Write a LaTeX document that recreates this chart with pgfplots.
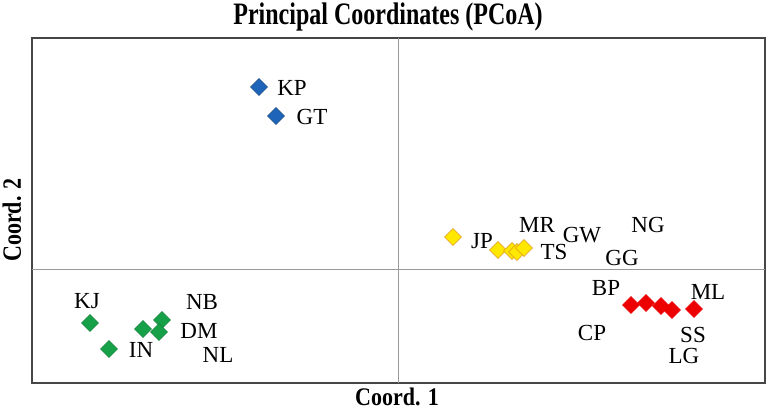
\documentclass[border=0pt]{standalone}
\usepackage{pgfplots}
\pgfplotsset{compat=1.18}
\usepackage{fontspec}
\setmainfont{Liberation Serif}
\definecolor{cblue}{RGB}{30,100,185}
\definecolor{cyellow}{RGB}{255,232,0}
\definecolor{cyelloweb}{RGB}{225,150,30}
\definecolor{cred}{RGB}{236,0,0}
\definecolor{cgreen}{RGB}{22,160,72}
\definecolor{boxc}{RGB}{70,70,70}
\begin{document}
\begin{tikzpicture}[x=1pt,y=1pt]
\useasboundingbox (0,0) rectangle (768,413);
\begin{axis}[
  at={(32pt,30pt)}, anchor=south west,
  scale only axis, width=733pt, height=345pt,
  xmin=-366, xmax=367, ymin=-114, ymax=231,
  axis line style={draw=boxc, line width=1.3pt},
  xtick=\empty, ytick=\empty,
  clip=false,
]
\draw[gray!80, line width=0.8pt] (axis cs:0,-114) -- (axis cs:0,231);
\draw[gray!80, line width=0.8pt] (axis cs:-366,0) -- (axis cs:367,0);
% blue group
\addplot[only marks, mark=square*, mark size=6pt, mark options={rotate=45, fill=cblue, draw=cblue!70!black, line width=0.4pt}]
 coordinates {(-139,182) (-122,153)};
% yellow group
\addplot[only marks, mark=square*, mark size=6pt, mark options={rotate=45, fill=cyellow, draw=cyelloweb, line width=0.5pt}]
 coordinates {(55,32) (100,19) (114,18) (119,17) (126,21)};
% red group
\addplot[only marks, mark=square*, mark size=6pt, mark options={rotate=45, fill=cred, draw=cred, line width=0.4pt}]
 coordinates {(233,-36) (248,-34) (263,-37) (274,-41) (296,-40)};
% green group
\addplot[only marks, mark=square*, mark size=6pt, mark options={rotate=45, fill=cgreen, draw=cgreen!80!black, line width=0.4pt}]
 coordinates {(-308,-54) (-289,-80) (-255,-60) (-236,-51) (-239,-63)};
\begin{scope}[every node/.style={font=\fontsize{23}{23}\selectfont, inner sep=0pt, anchor=center}]
\node at (axis cs:-106,181) {KP};
\node at (axis cs:-86,152) {GT};
\node at (axis cs:84,28) {JP};
\node at (axis cs:139,44) {MR};
\node at (axis cs:184,34) {GW};
\node at (axis cs:156,17) {TS};
\node at (axis cs:250,44) {NG};
\node at (axis cs:224,11) {GG};
\node at (axis cs:208,-19) {BP};
\node at (axis cs:310,-23) {ML};
\node at (axis cs:194,-64) {CP};
\node at (axis cs:295,-66) {SS};
\node at (axis cs:286,-87) {LG};
\node at (axis cs:-311,-32) {KJ};
\node at (axis cs:-196,-33) {NB};
\node at (axis cs:-199,-62) {DM};
\node at (axis cs:-180,-86) {NL};
\node at (axis cs:-257,-81) {IN};
\end{scope}
\end{axis}
\node[font=\bfseries\fontsize{24}{24}\selectfont, inner sep=0pt] at (388,396) {\scalebox{1}[1.3]{Principal Coordinates (PCoA)}};
\node[font=\bfseries\fontsize{22}{22}\selectfont, inner sep=0pt] at (397,16) {\scalebox{1}[1.15]{Coord. 1}};
\node[font=\bfseries\fontsize{22}{22}\selectfont, inner sep=0pt, rotate=90] at (12,193) {\scalebox{1}[1.2]{Coord. 2}};
\end{tikzpicture}
\end{document}
